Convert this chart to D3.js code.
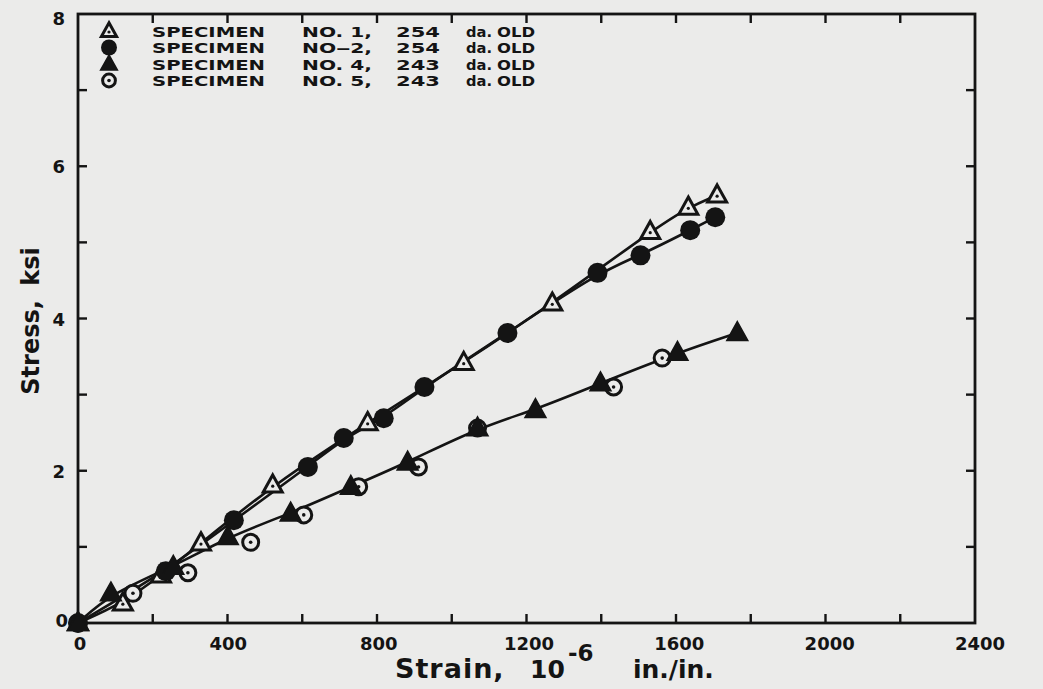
<!DOCTYPE html>
<html>
<head>
<meta charset="utf-8">
<script src="https://cdn.jsdelivr.net/npm/d3@7"></script>
<style>
  html, body { margin: 0; padding: 0; background: #ebebea; }
  svg { display: block; }
  text { font-family: "DejaVu Sans", "Liberation Sans", sans-serif; font-weight: bold; fill: #141414; }
</style>
</head>
<body>
<svg id="chart" width="1043" height="689"></svg>
<script>
// Axis ticks
const xMajorTicks = [0, 400, 800, 1200, 1600, 2000, 2400];
const yMajorTicks = [0, 2, 4, 6, 8];
const xMinorTicks = [200, 400, 600, 800, 1000, 1200, 1400, 1600, 1800, 2000, 2200];
const yMinorTicks = [1, 2, 3, 4, 5, 6, 7];

// Specimen No. 1 (open triangle)
const spec1Strain = [0, 120, 222, 329, 521, 775, 1032, 1269, 1531, 1633, 1710];
const spec1Stress = [0, 0.26, 0.63, 1.05, 1.81, 2.63, 3.42, 4.20, 5.14, 5.46, 5.62];
// Specimen No. 2 (filled circle)
const spec2Strain = [0, 235, 417, 615, 711, 818, 927, 1149, 1390, 1505, 1638, 1705];
const spec2Stress = [0, 0.68, 1.35, 2.05, 2.43, 2.69, 3.10, 3.81, 4.60, 4.83, 5.16, 5.33];
// Specimen No. 4 (filled triangle)
const spec4Strain = [0, 88, 255, 401, 569, 730, 882, 1069, 1224, 1398, 1604, 1764];
const spec4Stress = [0, 0.39, 0.74, 1.13, 1.44, 1.79, 2.11, 2.56, 2.80, 3.15, 3.55, 3.81];
// Specimen No. 5 (circle with dot)
const spec5Strain = [0, 147, 294, 462, 604, 751, 911, 1069, 1433, 1563];
const spec5Stress = [0, 0.39, 0.66, 1.06, 1.42, 1.79, 2.05, 2.56, 3.10, 3.48];

const legendNos = ["NO. 1,", "NO\u20122,", "NO. 4,", "NO. 5,"];
const legendAges = ["254", "254", "243", "243"];
const legendUnits = ["da.", "da.", "da.", "da."];

const svg = d3.select("#chart");
const plotLeft = 78, plotRight = 975, plotTop = 14, plotBottom = 623;
const bg = "#ebebea";
const ink = "#141414";

const x = d3.scaleLinear().domain([0, 2400]).range([plotLeft, plotRight]);
const y = d3.scaleLinear().domain([0, 8]).range([plotBottom, plotTop]);

const zip = (xs, ys) => xs.map((v, i) => ({ x: v, y: ys[i] }));
const series = [
  { name: "spec1", pts: zip(spec1Strain, spec1Stress), sym: "triDot", line: true, layer: 1 },
  { name: "spec2", pts: zip(spec2Strain, spec2Stress), sym: "disc", line: true, layer: 2 },
  { name: "spec4", pts: zip(spec4Strain, spec4Stress), sym: "triFill", line: true, layer: 3 },
  { name: "spec5", pts: zip(spec5Strain, spec5Stress), sym: "circDot", line: false, layer: 0 }
];

// Frame
svg.append("rect")
  .attr("x", plotLeft).attr("y", plotTop)
  .attr("width", plotRight - plotLeft).attr("height", plotBottom - plotTop)
  .attr("fill", "none").attr("stroke", ink).attr("stroke-width", 2.8);

// Inward ticks on all four sides
const tickLen = 9;
const gTicks = svg.append("g").attr("stroke", ink).attr("stroke-width", 2.4);
xMinorTicks.forEach(v => {
  gTicks.append("line").attr("x1", x(v)).attr("x2", x(v)).attr("y1", plotBottom).attr("y2", plotBottom - tickLen);
  gTicks.append("line").attr("x1", x(v)).attr("x2", x(v)).attr("y1", plotTop).attr("y2", plotTop + tickLen);
});
yMinorTicks.forEach(v => {
  gTicks.append("line").attr("x1", plotLeft).attr("x2", plotLeft + tickLen).attr("y1", y(v)).attr("y2", y(v));
  gTicks.append("line").attr("x1", plotRight).attr("x2", plotRight - tickLen).attr("y1", y(v)).attr("y2", y(v));
});

// Tick labels
svg.append("g").selectAll("text").data(xMajorTicks).join("text")
  .attr("x", d => x(d) + (d === 0 ? 2 : d / 2400 * 5)).attr("y", 650)
  .attr("text-anchor", "middle").attr("font-size", 18)
  .text(d => d);
svg.append("g").selectAll("text").data(yMajorTicks).join("text")
  .attr("x", d => d === 0 ? 68 : 65).attr("y", d => y(d) + 7 + (d === 8 ? 4 : 0) - (d === 0 ? 3 : 0))
  .attr("text-anchor", "end").attr("font-size", 18)
  .text(d => d);

// Axis titles
svg.append("text")
  .attr("transform", "translate(39, 321) rotate(-90)")
  .attr("text-anchor", "middle").attr("font-size", 24)
  .attr("word-spacing", 6)
  .text("Stress, ksi");

const xt = svg.append("g");
xt.append("text").attr("x", 395).attr("y", 678).attr("font-size", 27).attr("letter-spacing", 1).text("Strain,");
xt.append("text").attr("x", 530).attr("y", 678).attr("font-size", 25).text("10");
xt.append("text").attr("x", 568).attr("y", 661).attr("font-size", 23).text("-6");
xt.append("text").attr("x", 633).attr("y", 678).attr("font-size", 25).text("in./in.");

// Fitted curves
const line = d3.line().x(d => x(d.x)).y(d => y(d.y)).curve(d3.curveBasis);
svg.append("g").selectAll("path").data(series.filter(s => s.line)).join("path")
  .attr("d", s => line(s.pts))
  .attr("fill", "none").attr("stroke", ink).attr("stroke-width", 2.6);

// Marker drawing
function drawSymbol(g, sym, cx, cy, k) {
  k = k || 1;
  const tri = (s) => {
    const h = s * 0.9;
    return `M${cx},${cy - h * 0.6}L${cx + s / 2},${cy + h * 0.4}L${cx - s / 2},${cy + h * 0.4}Z`;
  };
  if (sym === "triDot") {
    g.append("path").attr("d", tri(19 * k)).attr("fill", bg).attr("stroke", ink).attr("stroke-width", 3);
    g.append("circle").attr("cx", cx).attr("cy", cy + 1).attr("r", 1.6).attr("fill", ink);
  } else if (sym === "disc") {
    g.append("circle").attr("cx", cx).attr("cy", cy).attr("r", 10 * k).attr("fill", ink);
  } else if (sym === "triFill") {
    g.append("path").attr("d", tri(21 * k)).attr("fill", ink).attr("stroke", ink).attr("stroke-width", 1.5);
  } else if (sym === "circDot") {
    g.append("circle").attr("cx", cx).attr("cy", cy).attr("r", 8 * k).attr("fill", bg).attr("stroke", ink).attr("stroke-width", 3);
    g.append("circle").attr("cx", cx).attr("cy", cy).attr("r", 1.8).attr("fill", ink);
  }
}

// Open symbols first, filled ones on top
const gMarks = svg.append("g");
series.slice().sort((a, b) => a.layer - b.layer).forEach(s => {
  s.pts.forEach(p => drawSymbol(gMarks, s.sym, x(p.x), y(p.y)));
});

// Legend: wide lettering, each column stretched to its lettered width
const legendRows = [31, 47.5, 64, 80.5];
const gLeg = svg.append("g").attr("font-size", 14);
function legendText(tx, ty, w, str) {
  gLeg.append("text").attr("x", tx).attr("y", ty)
    .attr("textLength", w).attr("lengthAdjust", "spacingAndGlyphs")
    .text(str);
}
series.forEach((s, i) => {
  const ry = legendRows[i];
  drawSymbol(gLeg, s.sym, 109, ry, 0.8);
  const by = ry + 5.5;
  legendText(152, by, 113, "SPECIMEN");
  legendText(302, by, 70, legendNos[i]);
  legendText(396, by, 44, legendAges[i]);
  legendText(466, by, 26, legendUnits[i]);
  legendText(497, by, 38, "OLD");
});
</script>
</body>
</html>
